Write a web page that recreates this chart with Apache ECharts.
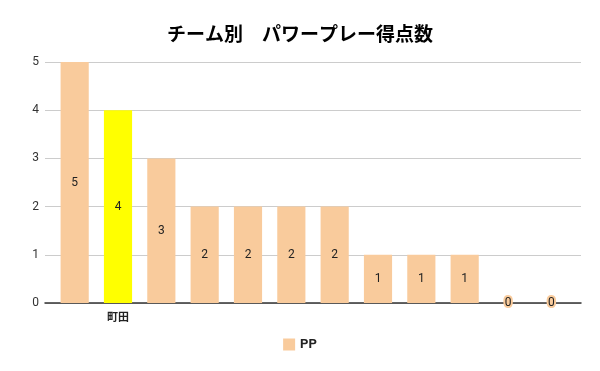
<!DOCTYPE html>
<html><head><meta charset="utf-8">
<script src="https://cdn.jsdelivr.net/npm/echarts@6/dist/echarts.min.js"></script>
<style>html,body{margin:0;padding:0;background:#fff}#c{width:600px;height:371px}</style>
</head><body><div id="c"></div>
<script>
const title = 'チーム別　パワープレー得点数';
const seriesName = 'PP';
const categories = ['', '町田', '', '', '', '', '', '', '', '', '', ''];
const values = [5, 4, 3, 2, 2, 2, 2, 1, 1, 1, 0, 0];
const highlightIndex = 1;
const yTicks = [0, 1, 2, 3, 4, 5];

const base = '#f9cb9c';
const hi = '#ffff00';
const chart = echarts.init(document.getElementById('c'));
const gTop = 62, gBottom = 68;
chart.setOption({
  animation: false,
  title: { text: title, left: 'center', top: 19, textStyle: { fontSize: 19, fontWeight: 'bold', color: '#000', fontFamily: 'Noto Sans CJK JP' } },
  legend: { data: [seriesName], bottom: 15, left: 'center', itemWidth: 12, itemHeight: 12, icon: 'rect', itemGap: 10,
    textStyle: { fontSize: 13, fontWeight: 'bold', color: '#222', fontFamily: 'Roboto' } },
  grid: [
    { left: 45, right: 19, top: gTop, bottom: gBottom },
    { left: 53, right: 27, top: gTop, bottom: gBottom }
  ],
  xAxis: [
    { type: 'value', gridIndex: 0, min: 0, max: 1, show: true, axisLabel: { show: false }, axisTick: { show: false }, splitLine: { show: false },
      axisLine: { show: true, onZero: false, lineStyle: { color: '#333', width: 1.5 } } },
    { type: 'category', gridIndex: 1, data: categories, axisLine: { show: false }, axisTick: { show: false },
      axisLabel: { interval: 0, fontSize: 11, color: '#222', fontWeight: 'bold', margin: 8, fontFamily: 'Noto Sans CJK JP' } }
  ],
  yAxis: [
    { type: 'value', gridIndex: 0, min: yTicks[0], max: yTicks[yTicks.length - 1], interval: 1,
      axisLine: { show: false }, axisTick: { show: false },
      axisLabel: { fontSize: 12, color: '#333', margin: 6, fontFamily: 'Roboto' },
      splitLine: { lineStyle: { color: '#ccc', width: 1 } } },
    { type: 'value', gridIndex: 1, min: yTicks[0], max: yTicks[yTicks.length - 1], interval: 1, show: false, splitLine: { show: false } }
  ],
  series: [{
    name: seriesName, type: 'bar', xAxisIndex: 1, yAxisIndex: 1,
    barCategoryGap: '35%',
    itemStyle: { color: base },
    data: values.map((v, i) => ({
      value: v,
      itemStyle: { color: i === highlightIndex ? hi : base },
      label: v === 0 ? { textBorderColor: base, textBorderWidth: 4 } : {}
    })),
    label: { show: true, position: 'inside', fontSize: 12, color: '#222', fontFamily: 'Roboto' }
  }]
});
</script></body></html>
